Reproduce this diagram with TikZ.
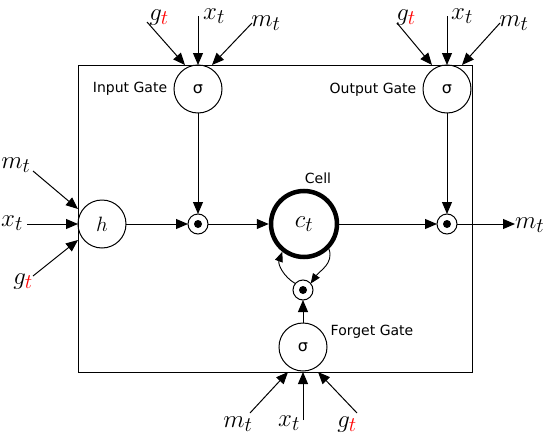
\documentclass[tikz,border=0pt]{standalone}
\usepackage{fontspec}
\newfontfamily\djv{DejaVu Sans}
\usetikzlibrary{arrows.meta}
\begin{document}
\begin{tikzpicture}[x=1pt,y=-1pt,
  every node/.style={inner sep=0pt,outer sep=0pt},
  gate/.style={draw,circle,line width=1pt,minimum size=48pt,font=\djv\fontsize{16}{18}\selectfont},
  mult/.style={draw,circle,line width=1pt,minimum size=20pt},
  cellnode/.style={draw,circle,line width=4.5pt,minimum size=66pt,outer sep=2.25pt,font=\fontsize{24.88}{28}\selectfont},
  arr/.style={line width=1pt,-{Triangle[length=12pt,width=10pt]}},
  sarr/.style={line width=0.9pt,-{Triangle[length=10pt,width=8pt]}},
  lbl/.style={font=\djv\fontsize{14}{16}\selectfont,anchor=base},
  mth/.style={font=\fontsize{24.88}{28}\selectfont,anchor=base},
]
\useasboundingbox (0,0) rectangle (544,434);
% box
\draw[line width=1pt] (78,65) rectangle (472,372);
% nodes
\node[gate] (ig) at (198,89) {σ};
\node[gate] (og) at (447,89) {σ};
\node[gate] (fg) at (303,347) {σ};
\node[gate,font=\fontsize{20.74}{24}\selectfont] (h) at (102,224) {$h$};
\node[mult] (m1) at (198,224) {};
\node[mult] (m2) at (447,224) {};
\node[mult] (m3) at (303,290) {};
\fill (m1.center) circle[radius=4];
\fill (m2.center) circle[radius=4];
\fill (m3.center) circle[radius=4];
\node[cellnode] (cell) at (304,224) {$c_t$};
% text labels
\node[lbl] (tig) at (130,92) {Input Gate};
\node[lbl] (tog) at (373,93) {Output Gate};
\node[lbl] (tfg) at (372,335) {Forget Gate};
\node[lbl] (tcell) at (318,183) {Cell};
% math labels
\node[mth] (ig-g) at (159,20) {$g_{\textcolor{red}{t}}$};
\node[mth] (ig-x) at (214,19) {$x_t$};
\node[mth] (ig-m) at (266,26) {$m_t$};
\node[mth] (og-g) at (406,20) {$g_{\textcolor{red}{t}}$};
\node[mth] (og-x) at (462,19) {$x_t$};
\node[mth] (og-m) at (514,26) {$m_t$};
\node[mth] (h-m) at (16,168) {$m_t$};
\node[mth] (h-x) at (12,226) {$x_t$};
\node[mth] (h-g) at (23,284) {$g_{\textcolor{red}{t}}$};
\node[mth] (fg-m) at (238,427) {$m_t$};
\node[mth] (fg-x) at (289,426) {$x_t$};
\node[mth] (fg-g) at (347,427) {$g_{\textcolor{red}{t}}$};
\node[mth,anchor=base west] (out-m) at (515,228) {$m_t$};
% connector end coordinates
\coordinate (a1) at (147,22);  \coordinate (b1) at (185,65);
\coordinate (a2) at (198,16);  \coordinate (b2) at (198,65);
\coordinate (a3) at (252,23);  \coordinate (b3) at (212,65);
\coordinate (a4) at (397,23);  \coordinate (b4) at (432,65);
\coordinate (a5) at (447,16);  \coordinate (b5) at (447,65);
\coordinate (a6) at (500,23);  \coordinate (b6) at (462,65);
\coordinate (a7) at (33,171);  \coordinate (b7) at (78,209);
\coordinate (a8) at (27,224);  \coordinate (b8) at (78,224);
\coordinate (a9) at (33,276);  \coordinate (b9) at (78,240);
\coordinate (a10) at (250,413); \coordinate (b10) at (288,372);
\coordinate (a11) at (303,420); \coordinate (b11) at (303,372);
\coordinate (a12) at (357,413); \coordinate (b12) at (318,372);
\coordinate (outend) at (515,224);
\foreach \i in {1,...,12} {\draw[arr] (a\i) -- (b\i);}
% internal connectors
\draw[arr] (ig) -- (m1);
\draw[arr] (og) -- (m2);
\draw[arr] (h) -- (m1);
\draw[arr] (m1) -- (cell);
\draw[arr] (cell) -- (m2);
\draw[arr] (m2) -- (outend);
\draw[arr] (fg) -- (m3);
\draw[sarr] (cell.-45) to[out=-70,in=55] (m3.40);
\draw[sarr] (m3.140) to[out=150,in=-110] (cell.-128);
\end{tikzpicture}
\end{document}
